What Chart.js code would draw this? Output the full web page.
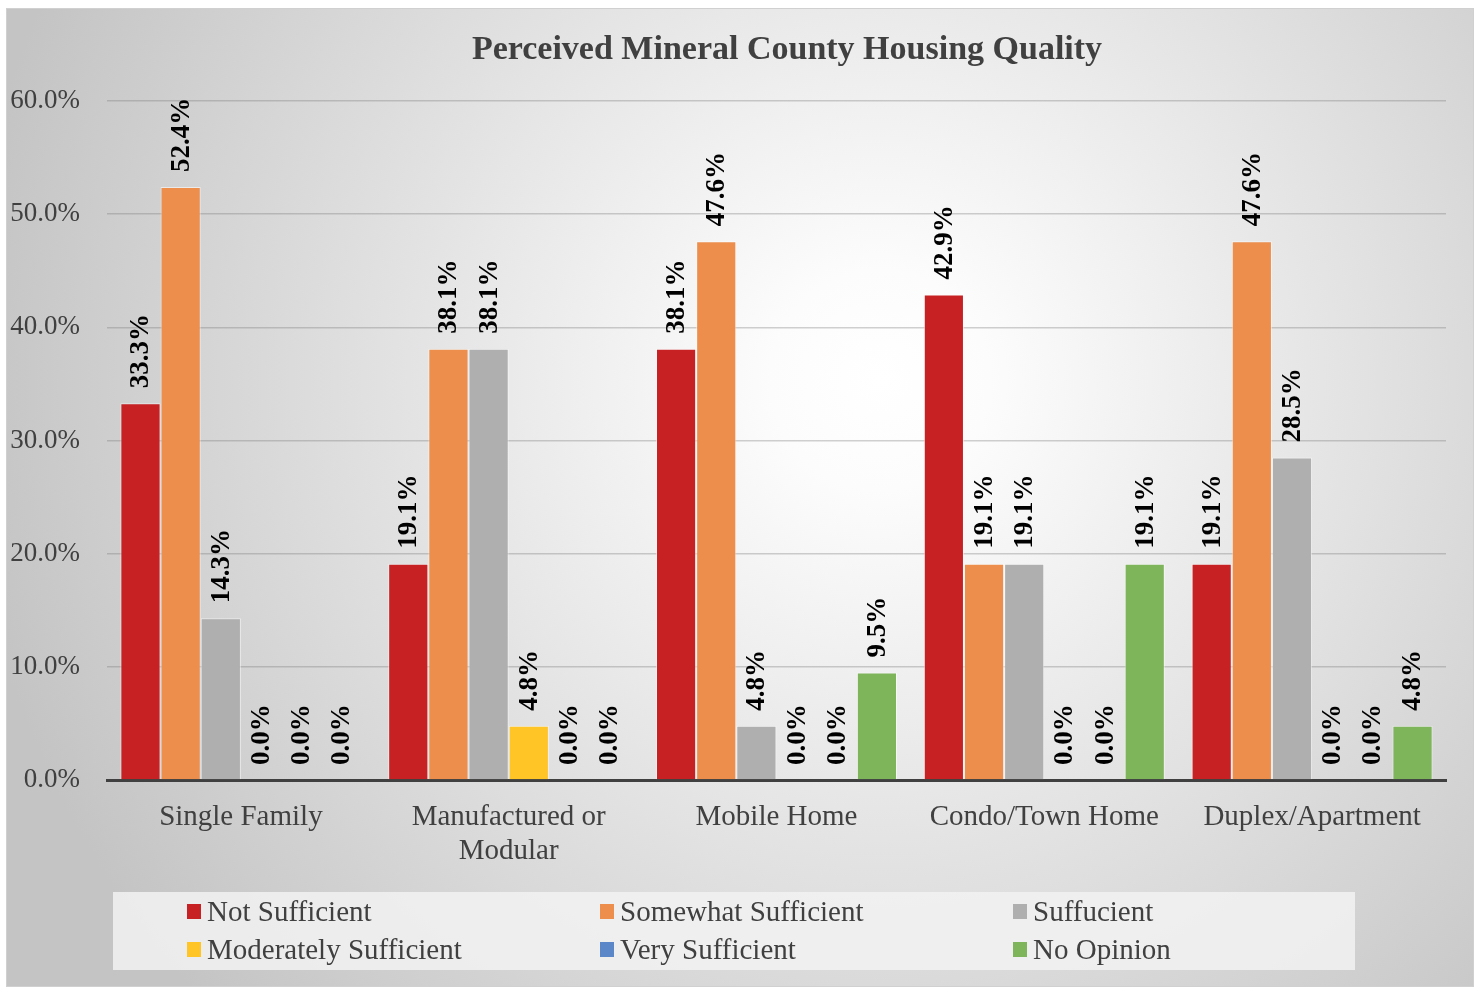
<!DOCTYPE html>
<html>
<head>
<meta charset="utf-8">
<title>Perceived Mineral County Housing Quality</title>
<script src="https://cdn.jsdelivr.net/npm/chart.js@4.4.1/dist/chart.umd.min.js"></script>
<style>
  html, body { margin: 0; padding: 0; background: #fff; }
  #wrap { position: relative; width: 1478px; height: 987px; }
</style>
</head>
<body>
<div id="wrap"><canvas id="grafico" width="1478" height="987"></canvas></div>
<script>
// categorias e valores (%)
const categorias = ["Single Family", ["Manufactured or", "Modular"], "Mobile Home", "Condo/Town Home", "Duplex/Apartment"];
const notSufficient = [33.3, 19.1, 38.1, 42.9, 19.1];
const somewhatSufficient = [52.4, 38.1, 47.6, 19.1, 47.6];
const suffucient = [14.3, 38.1, 4.8, 19.1, 28.5];
const moderatelySufficient = [0.0, 4.8, 0.0, 0.0, 0.0];
const verySufficient = [0.0, 0.0, 0.0, 0.0, 0.0];
const noOpinion = [0.0, 0.0, 9.5, 19.1, 4.8];
const yTicks = [0, 10, 20, 30, 40, 50, 60];

const serif = '"Liberation Serif", "Times New Roman", serif';
const textColor = '#404040';

function ds(label, data, cor) {
    return {
        label: label,
        data: data,
        backgroundColor: cor,
        borderColor: 'rgba(255,255,255,0.55)',
        borderWidth: 1,
        borderSkipped: 'bottom'
    };
}

// fundo com degradê radial e moldura
const fundo = {
    id: 'fundo',
    beforeDraw(chart) {
        const c = chart.ctx;
        c.save();
        const g = c.createRadialGradient(880, 380, 0, 880, 380, 920);
        g.addColorStop(0, '#ffffff');
        g.addColorStop(0.12, '#fcfcfc');
        g.addColorStop(1, '#c4c4c4');
        c.fillStyle = g;
        c.fillRect(6, 8, 1468, 979);
        c.strokeStyle = '#d0d0d0';
        c.lineWidth = 1;
        c.strokeRect(6.5, 8.5, 1467, 978);
        c.restore();
    }
};

// título
const titulo = {
    id: 'titulo',
    afterDraw(chart) {
        const c = chart.ctx;
        c.save();
        c.font = 'bold 34px ' + serif;
        c.fillStyle = textColor;
        c.textAlign = 'center';
        c.textBaseline = 'middle';
        c.fillText('Perceived Mineral County Housing Quality', 787, 50);
        c.restore();
    }
};

// rótulos verticais acima de cada barra
const rotulos = {
    id: 'rotulos',
    afterDatasetsDraw(chart) {
        const c = chart.ctx;
        c.save();
        c.font = 'bold 27px ' + serif;
        c.fillStyle = '#000';
        c.textAlign = 'left';
        c.textBaseline = 'middle';
        chart.data.datasets.forEach((d, i) => {
            const meta = chart.getDatasetMeta(i);
            meta.data.forEach((bar, j) => {
                c.save();
                c.translate(bar.x + 1, bar.y - 15);
                c.rotate(-Math.PI / 2);
                c.fillText(d.data[j].toFixed(1) + '%', 0, 0);
                c.restore();
            });
        });
        c.restore();
    }
};

// legenda em três colunas dentro de uma caixa clara
const legenda = {
    id: 'legenda',
    afterDraw(chart) {
        const c = chart.ctx;
        c.save();
        c.fillStyle = 'rgba(242,242,242,0.85)';
        c.fillRect(113, 892, 1242, 78);
        c.font = '29px ' + serif;
        c.textBaseline = 'middle';
        const colX = [187, 600, 1013];
        const rowY = [912, 950];
        chart.data.datasets.forEach((d, i) => {
            const x = colX[i % 3];
            const y = rowY[Math.floor(i / 3)];
            c.fillStyle = d.backgroundColor;
            c.fillRect(x, y - 8, 14, 15);
            c.fillStyle = textColor;
            c.fillText(d.label, x + 20, y + 1);
        });
        c.restore();
    }
};

const ctx = document.getElementById('grafico').getContext('2d');
new Chart(ctx, {
    type: 'bar',
    data: {
        labels: categorias,
        datasets: [
            ds('Not Sufficient', notSufficient, '#C72123'),
            ds('Somewhat Sufficient', somewhatSufficient, '#ED8E4C'),
            ds('Suffucient', suffucient, '#AFAFAF'),
            ds('Moderately Sufficient', moderatelySufficient, '#FFC425'),
            ds('Very Sufficient', verySufficient, '#5B87C9'),
            ds('No Opinion', noOpinion, '#7EB55B')
        ]
    },
    options: {
        responsive: false,
        animation: false,
        layout: { padding: { left: 6, right: 32, top: 101, bottom: 107 } },
        datasets: { bar: { categoryPercentage: 0.9, barPercentage: 1.0 } },
        scales: {
            x: {
                grid: { display: false, drawTicks: false },
                border: { display: true, color: '#404040', width: 3 },
                ticks: { color: textColor, font: { family: serif, size: 29, lineHeight: 1.17 }, padding: 20, maxRotation: 0 },
                afterFit: s => { s.height = 100; }
            },
            y: {
                min: 0,
                max: 60,
                afterBuildTicks: s => { s.ticks = yTicks.map(v => ({ value: v })); },
                grid: { color: 'rgba(120,120,120,0.35)', lineWidth: 1.5, drawTicks: false },
                border: { display: false },
                ticks: {
                    color: textColor,
                    font: { family: serif, size: 27 },
                    padding: 27,
                    callback: v => v.toFixed(1) + '%'
                },
                afterFit: s => { s.width = 101; }
            }
        },
        plugins: {
            legend: { display: false },
            title: { display: false },
            tooltip: { enabled: false }
        }
    },
    plugins: [fundo, titulo, rotulos, legenda]
});
</script>
</body>
</html>
